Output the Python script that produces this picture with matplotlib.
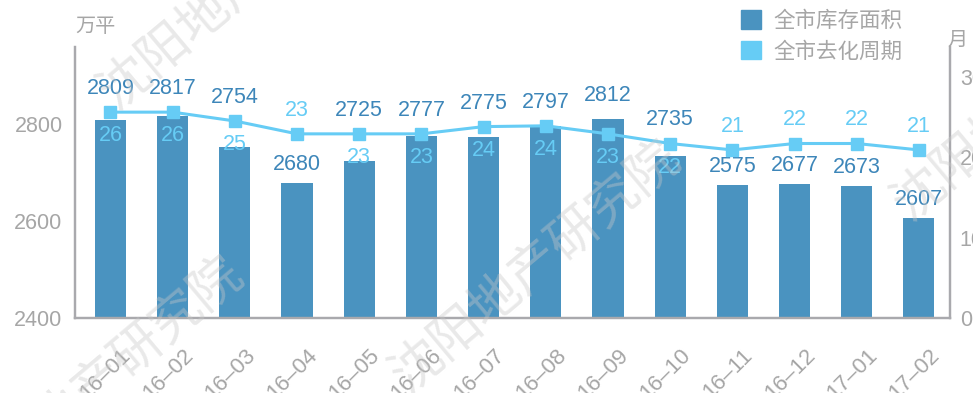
import matplotlib
matplotlib.use("Agg")
import matplotlib.pyplot as plt
from matplotlib.patches import Patch

plt.rcParams['font.family'] = ['Liberation Sans', 'Noto Sans CJK SC', 'DejaVu Sans']

# --- data ---
months = ['16–01', '16–02', '16–03', '16–04', '16–05', '16–06', '16–07',
          '16–08', '16–09', '16–10', '16–11', '16–12', '17–01', '17–02']
inventory = [2809, 2817, 2754, 2680, 2725, 2777, 2775,
             2797, 2812, 2735, 2675, 2677, 2673, 2607]       # bar heights
inventory_text = [2809, 2817, 2754, 2680, 2725, 2777, 2775,
                  2797, 2812, 2735, 2575, 2677, 2673, 2607]  # printed labels
cycle = [25.6, 25.6, 24.5, 22.9, 22.9, 22.9, 23.8,
         23.9, 22.9, 21.7, 20.9, 21.7, 21.7, 20.9]
inv_name = '全市库存面积'
cycle_name = '全市去化周期'

# --- style ---
BAR_C = '#4A93C0'
LINE_C = '#66CCF5'
BAR_TXT = '#3D86B9'
GREY = '#A6A6A6'
SPINE = '#A9A9AD'
FS = 15.5

LEFT_LIM = (2400, 2960)
RIGHT_LIM = (0, 33.7)

fig = plt.figure(figsize=(9.73, 3.93), dpi=100)
ax = fig.add_axes([0.0771, 0.1908, 0.8993, 0.6896])
ax2 = ax.twinx()

x = list(range(len(months)))
ax.bar(x, inventory, width=0.5, color=BAR_C, zorder=2)
ax2.plot(x, cycle, color=LINE_C, lw=2.2, marker='s', ms=9, zorder=3)

ax.set_xlim(-0.57, 13.5)
ax.set_ylim(*LEFT_LIM)
ax2.set_ylim(*RIGHT_LIM)
ax.set_yticks([2400, 2600, 2800])
ax2.set_yticks([0, 10, 20, 30])
ax.set_xticks(x)
ax.set_xticklabels([])

# rotated month labels, hung below each bar
for i, m in enumerate(months):
    ax.annotate(m, (i, 0), xycoords=ax.get_xaxis_transform(),
                xytext=(12.5, -24.5), textcoords='offset points',
                rotation=45, ha='right', va='center', rotation_mode='anchor',
                fontsize=16, color=GREY, annotation_clip=False)

ax.tick_params(axis='x', length=0, pad=0)
ax.tick_params(axis='y', length=0, pad=9, labelsize=FS, labelcolor=GREY)
ax2.tick_params(axis='y', length=0, pad=7, labelsize=FS, labelcolor=GREY)

for a in (ax, ax2):
    a.spines['top'].set_visible(False)
    for s in ('left', 'right', 'bottom'):
        a.spines[s].set_color(SPINE)
        a.spines[s].set_linewidth(1.6)

# --- value labels, placed to dodge the line ---
span_l = LEFT_LIM[1] - LEFT_LIM[0]
span_r = RIGHT_LIM[1] - RIGHT_LIM[0]
for i, (h, txt, c) in enumerate(zip(inventory, inventory_text, cycle)):
    marker_left = LEFT_LIM[0] + (c - RIGHT_LIM[0]) / span_r * span_l
    if marker_left - h > 62:
        # room between bar and line
        ax.annotate(str(txt), (i, h), xytext=(0, 13), textcoords='offset points',
                    ha='center', va='center', fontsize=FS, color=BAR_TXT, zorder=5)
        dy = 17
    else:
        ax.annotate(str(txt), (i, max(h, marker_left)), xytext=(0, 17),
                    textcoords='offset points', ha='center', va='center',
                    fontsize=FS, color=BAR_TXT, zorder=5)
        dy = -17
    ax2.annotate(str(int(c + 0.5)), (i, c), xytext=(0, dy), textcoords='offset points',
                 ha='center', va='center', fontsize=FS, color=LINE_C, zorder=5)

# --- unit labels ---
fig.text(75 / 973, 1 - 27 / 393, '万平', fontsize=14.5, color=GREY, ha='left', va='center')
fig.text(947 / 973, 1 - 40 / 393, '月', fontsize=14.5, color=GREY, ha='left', va='center')

# --- legend ---
handles = [Patch(color=BAR_C), Patch(color=LINE_C)]
fig.legend(handles, [inv_name, cycle_name], loc='upper left',
           bbox_to_anchor=(741 / 973, 1 - 10 / 393), frameon=False, fontsize=FS,
           handlelength=0.95, handleheight=0.95, handletextpad=0.55,
           labelspacing=0.42, borderpad=0, borderaxespad=0, labelcolor=GREY)

# --- watermark ---
for wx, wy in [(245, -16), (537, 267), (100, 383), (1039, 95)]:
    fig.text(wx / 973, 1 - wy / 393, '沈阳地产研究院', fontsize=37, color='#C8C8C8',
             alpha=0.4, rotation=40, ha='center', va='center',
             rotation_mode='anchor', zorder=10)

fig.savefig('out.png', dpi=100)
